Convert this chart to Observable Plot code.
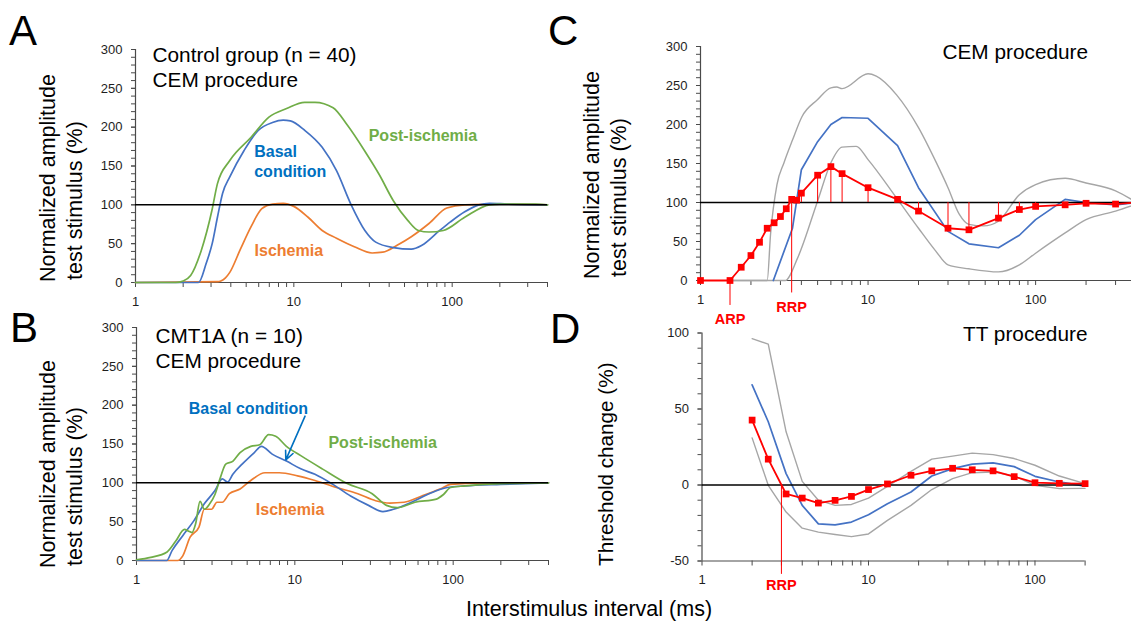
<!DOCTYPE html>
<html><head><meta charset="utf-8">
<script src="https://cdn.jsdelivr.net/npm/d3@7"></script>
<script src="https://cdn.jsdelivr.net/npm/@observablehq/plot@0.6"></script>
<style>
html,body{margin:0;padding:0;background:#fff;overflow:hidden;}
#wrap{position:relative;width:1131px;height:622px;overflow:hidden;background:#fff;}
</style></head><body><div id="wrap"></div>
<script>
// ---------- Panel A : control group, CEM ----------
const aPostX = [1, 1.8, 2.0, 2.23, 2.6, 3.04, 3.29, 3.94, 5.37, 6.96, 9.0, 11.7, 13.6, 17.7, 21.7, 28.1, 34.6, 42.6, 52.4, 61.2, 71.4, 87.9, 120, 172, 200, 337, 400];
const aPostY = [0, 0, 2, 9, 41, 93, 127, 157, 187, 213, 224, 232, 232, 225, 203, 169, 139, 105, 80, 67, 65, 67, 84, 100, 101, 101, 100];
const aBasalX = [1, 2.5, 2.8, 3.05, 3.3, 3.55, 3.94, 4.85, 5.96, 7.33, 8.57, 9.5, 11.7, 15.1, 18.6, 22.9, 28.1, 32.9, 42.6, 55.2, 64.4, 83.4, 97.5, 120, 147.5, 172, 223, 400];
const aBasalY = [0, 0, 25, 50, 85, 115, 136, 170, 196, 206, 209, 208, 196, 174, 144, 101, 67, 52, 45, 43, 48, 67, 78, 91, 100, 102, 101, 100];
const aIschX = [1, 3.3, 3.46, 3.7, 3.94, 4.6, 5.37, 6.28, 7.33, 8.57, 10, 12.3, 15.1, 18.6, 24.1, 31.2, 36.5, 44.9, 55.2, 71.4, 92.5, 120, 200, 400];
const aIschY = [0, 1, 2, 6, 13, 43, 72, 95, 101, 102, 98, 84, 67, 57, 46, 38, 39, 48, 59, 76, 96, 100, 101, 100];
const aLabels = ["Post-ischemia", "Basal", "condition", "Ischemia"];
const aLabelSeries = ["post", "basal", "basal", "isch"];
const aLabelX = [29.7, 5.62, 5.62, 5.65];
const aLabelY = [182.8, 162.2, 135.6, 33.9];
const aTitle = ["Control group (n = 40)", "CEM procedure"];

// ---------- Panel B : CMT1A, CEM ----------
const bPostX = [1, 1.23, 1.56, 1.77, 2.01, 2.12, 2.24, 2.36, 2.52, 2.68, 2.9, 3.13, 3.39, 3.66, 4.07, 4.51, 5.27, 6.0, 6.83, 7.57, 8.85, 10.9, 14.9, 21.4, 30.8, 37.9, 44.3, 57.4, 78.3, 86.9, 96.4, 118.7, 199.5, 400];
const bPostY = [1, 4, 11, 25, 40, 38, 36, 47, 76, 66, 73, 85, 107, 124, 128, 139, 147, 149, 162, 160, 147, 135, 118, 99, 86, 71, 68, 75, 79, 85, 94, 96, 99, 100];
const bBasalX = [1, 1.55, 1.68, 1.96, 2.3, 2.68, 3.13, 3.48, 3.76, 4.06, 4.75, 5.55, 6.15, 7.19, 8.85, 10.9, 13.4, 17.4, 22.5, 29.2, 36, 42, 54.5, 70.6, 91.5, 118.7, 200, 400];
const bBasalY = [0, 0, 13, 32, 51, 73, 90, 105, 101, 111, 126, 139, 147, 137, 128, 118, 111, 98, 83, 71, 63, 66, 75, 86, 94, 96, 98, 100];
const bIschX = [1, 1.82, 1.96, 2.18, 2.48, 2.68, 2.98, 3.22, 3.48, 3.86, 4.51, 5.27, 6.48, 7.98, 10.4, 13.4, 18.3, 25, 32.4, 39.8, 49, 63.3, 82.5, 96.4, 150, 400];
const bIschY = [0, 0, 6, 30, 43, 66, 66, 75, 75, 86, 92, 103, 113, 113, 109, 103, 94, 86, 77, 74, 75, 83, 92, 98, 100, 100];
const bLabels = ["Basal condition", "Post-ischemia", "Ischemia"];
const bLabelSeries = ["basal", "post", "isch"];
const bLabelX = [2.14, 16.3, 5.67];
const bLabelY = [188.9, 145.1, 59.2];
const bArrowFrom = [11.6, 185.8];
const bArrowTo = [8.77, 129.6];
const bTitle = ["CMT1A (n = 10)", "CEM procedure"];

// ---------- Panel C : CEM procedure, mean ± range ----------
const cRedX = [1, 1.5, 1.75, 2, 2.25, 2.5, 2.75, 3, 3.25, 3.5, 3.75, 4, 5, 6, 7, 10, 15, 20, 30, 40, 60, 80, 100, 150, 200, 300, 400];
const cRedY = [0, 0, 17, 32, 49, 67, 74, 82, 92, 104, 103, 112, 135, 146, 137, 119, 104, 89, 67, 65, 80, 91, 95, 97, 99, 98, 100];
const cBlueX = [2.72, 3.54, 4, 5, 6, 7, 10, 15, 20, 30, 40, 60, 80, 100, 150, 200, 300, 400];
const cBlueY = [0, 67, 142, 178, 200, 209, 208, 173, 119, 63, 47, 42, 58, 78, 104, 100, 97, 100];
const cUpX = [1.5, 2.5, 2.62, 2.86, 3.15, 3.54, 4.03, 5, 6, 6.5, 7, 10, 11.2, 14.8, 20, 25.3, 30, 35, 40, 49, 60, 80, 100, 150, 200, 300, 400];
const cUpY = [0, 0, 60, 123, 151, 180, 210, 232, 247, 248, 246, 265, 262, 238, 196, 153, 119, 85, 72, 70, 76, 110, 123, 131, 125, 115, 100];
const cLowX = [1.5, 3.2, 3.8, 5, 6, 7, 8.5, 10, 15, 20, 25.3, 30, 40, 60, 80, 100, 150, 200, 300, 400];
const cLowY = [0, 0, 29, 102, 151, 171, 172, 155, 104, 67, 38, 20, 15, 11, 20, 35, 61, 78, 89, 98];
const cMarkNames = ["ARP", "RRP"];
const cMarkX = [1.5, 3.5];
const cMarkTop = [0, 104];
const cMarkBottom = [-32, -16];
const cMarkLabelY = [-55.5, -40.6];
const cTitle = "CEM procedure";

// ---------- Panel D : TT procedure ----------
const dX = [2, 2.5, 3.2, 4, 5, 6.3, 7.9, 10, 13, 18, 24, 32, 42, 56, 75, 100, 140, 200];
const dRed = [42.7, 17, -5.9, -8.6, -11.9, -10.1, -7.5, -3, 0.7, 6.4, 9.3, 11, 10, 9.3, 5.5, 1.5, 1.1, 0.9];
const dBlue = [65.9, 41.6, 7.5, -13.4, -25.6, -26.2, -24.4, -19.6, -12.3, -4.6, 5.9, 10.8, 13.7, 14.5, 12.1, 5.7, 2, -0.7];
const dUp = [96.3, 92.7, 35, 2.4, -10, -13.4, -12.8, -8.6, -0.9, 9, 17, 19, 21, 20, 17.4, 13, 5.9, 0.9];
const dLow = [31, -0.2, -17.8, -28.4, -31, -32.6, -34, -32.2, -23.3, -13.4, -3, 4.2, 8.1, 8.6, 5.9, -0.2, -2.4, -2.2];
const dMarkName = "RRP";
const dMarkX = 3.0;
const dMarkBottom = -58.8;
const dMarkLabelY = -68.8;
const dTitle = "TT procedure";

// ---------- axes ----------
const xMajor = [1, 10, 100];
const xMinorWide = [2,3,4,5,6,7,8,9,20,30,40,50,60,70,80,90,200,300,400];
const xMinorD = [2,3,4,5,6,7,8,9,20,30,40,50,60,70,80,90,200];
const yMajorABC = [0, 50, 100, 150, 200, 250, 300];
const yMinorABC = d3.range(0, 301, 10);
const yMajorD = [-50, 0, 50, 100];
const yMinorD = d3.range(-50, 101, 10);
const yTitleCEM = ["Normalized amplitude", "test stimulus (%)"];
const yTitleTT = "Threshold change (%)";
const xTitle = "Interstimulus interval (ms)";
const panelLetters = ["A", "B", "C", "D"];

// ---------- styles ----------
const FONT = '"Liberation Sans", Arial, Helvetica, sans-serif';
const BLUE = "#4472C4", ORANGE = "#ED7D31", GREEN = "#70AD47", GRAY = "#A6A6A6", RED = "#FF0000";
const LABEL = {basal: "#0070C0", post: "#70AD47", isch: "#ED7D31"};
const AXIS = "#4a4a4a";
const TICKTEXT = "#1e1e1e";
const wrap = document.getElementById("wrap");
const pts = (xs, ys) => xs.map((x, i) => ({x, y: ys[i]}));

function panel({left, top, width, height, mt, mr, mb, ml, xDomain, yDomain, yMajor, yMinor, xMinor, marks}) {
  const chart = Plot.plot({
    width, height, marginTop: mt, marginRight: mr, marginBottom: mb, marginLeft: ml,
    x: {type: "log", domain: xDomain},
    y: {type: "linear", domain: yDomain},
    style: {background: "none", overflow: "visible", fontFamily: FONT, fontSize: "13px", color: "#2b2b2b"},
    marks: [
      Plot.axisY({ticks: yMinor, tickSize: 4, tickFormat: () => "", label: null, stroke: AXIS}),
      Plot.axisY({ticks: yMajor, tickSize: 4, tickPadding: 9, tickFormat: d => String(d), label: null, stroke: AXIS, fill: TICKTEXT, fontSize: 13}),
      Plot.axisX({ticks: xMinor, tickSize: 5, tickFormat: () => "", label: null, stroke: AXIS}),
      Plot.axisX({ticks: xMajor, tickSize: 5, tickPadding: 9, tickFormat: d => String(d), label: null, stroke: AXIS, fill: TICKTEXT, fontSize: 13}),
      Plot.ruleX([xDomain[0]], {stroke: AXIS, strokeWidth: 1.2}),
      Plot.ruleY([yDomain[0]], {stroke: AXIS, strokeWidth: 1.2}),
      ...marks
    ]
  });
  chart.style.position = "absolute";
  chart.style.left = left + "px";
  chart.style.top = top + "px";
  // make sure tick labels use the intended size
  chart.querySelectorAll('g[aria-label$="tick label"]').forEach(g => { g.setAttribute("font-size", "13"); g.style.fontSize = "13px"; });
  wrap.appendChild(chart);
}

const smoothLine = (xs, ys, color) => Plot.line(pts(xs, ys), {x: "x", y: "y", stroke: color, strokeWidth: 1.7, curve: "monotone-x"});
const labelMarks = (texts, series, xs, ys) => Plot.text(texts.map((t, i) => ({t, s: series[i], x: xs[i], y: ys[i]})),
  {x: "x", y: "y", text: "t", fill: d => LABEL[d.s], fontWeight: "bold", fontSize: 16, textAnchor: "start", lineAnchor: "bottom"});
const titleMarks = (lines, dx, dys) => lines.map((t, i) => Plot.text([t], {frameAnchor: "top-left", textAnchor: "start", lineAnchor: "bottom", dx, dy: dys[i], fontSize: 20.8, fill: "#000"}));

// Panel A
panel({left: 0, top: 0, width: 560, height: 310, mt: 49, mr: 13, mb: 28, ml: 135,
  xDomain: [1, 400], yDomain: [0, 300], yMajor: yMajorABC, yMinor: yMinorABC, xMinor: xMinorWide,
  marks: [
    smoothLine(aIschX, aIschY, ORANGE),
    smoothLine(aBasalX, aBasalY, BLUE),
    smoothLine(aPostX, aPostY, GREEN),
    Plot.ruleY([100], {stroke: "#000", strokeWidth: 1.5}),
    labelMarks(aLabels, aLabelSeries, aLabelX, aLabelY),
    ...titleMarks(aTitle, 17, [12.7, 37])
  ]});

// Panel B
panel({left: 0, top: 300, width: 560, height: 322, mt: 27, mr: 12, mb: 62, ml: 136,
  xDomain: [1, 400], yDomain: [0, 300], yMajor: yMajorABC, yMinor: yMinorABC, xMinor: xMinorWide,
  marks: [
    smoothLine(bIschX, bIschY, ORANGE),
    smoothLine(bBasalX, bBasalY, BLUE),
    smoothLine(bPostX, bPostY, GREEN),
    Plot.ruleY([100], {stroke: "#000", strokeWidth: 1.5}),
    labelMarks(bLabels, bLabelSeries, bLabelX, bLabelY),
    Plot.arrow([{x1: bArrowFrom[0], y1: bArrowFrom[1], x2: bArrowTo[0], y2: bArrowTo[1]}],
      {x1: "x1", y1: "y1", x2: "x2", y2: "y2", stroke: LABEL.basal, strokeWidth: 1.6, headLength: 9, headAngle: 50}),
    ...titleMarks(bTitle, 19, [15.7, 40.7])
  ]});

// Panel C
const cPts = pts(cRedX, cRedY);
panel({left: 565, top: 0, width: 575, height: 330, mt: 46, mr: 4, mb: 50, ml: 135,
  xDomain: [1, 400], yDomain: [0, 300], yMajor: yMajorABC, yMinor: yMinorABC, xMinor: xMinorWide,
  marks: [
    Plot.line(pts(cUpX, cUpY), {x: "x", y: "y", stroke: GRAY, strokeWidth: 1.4, curve: "monotone-x"}),
    Plot.line(pts(cLowX, cLowY), {x: "x", y: "y", stroke: GRAY, strokeWidth: 1.4, curve: "monotone-x"}),
    Plot.line(pts(cBlueX, cBlueY), {x: "x", y: "y", stroke: BLUE, strokeWidth: 1.7}),
    Plot.ruleY([100], {stroke: "#000", strokeWidth: 1.5}),
    Plot.ruleX(cPts.filter(d => d.x >= 4), {x: "x", y1: "y", y2: () => 100, stroke: RED, strokeWidth: 1}),
    Plot.ruleX(cMarkNames.map((n, i) => ({x: cMarkX[i], y1: cMarkTop[i], y2: cMarkBottom[i]})), {x: "x", y1: "y1", y2: "y2", stroke: RED, strokeWidth: 1}),
    Plot.line(cPts, {x: "x", y: "y", stroke: RED, strokeWidth: 1.8}),
    Plot.dot(cPts, {x: "x", y: "y", symbol: "square", r: 3.8, fill: RED, stroke: "none"}),
    Plot.text(cMarkNames.map((n, i) => ({n, x: cMarkX[i], y: cMarkLabelY[i]})), {x: "x", y: "y", text: "n", fill: RED, fontWeight: "bold", fontSize: 14.5, textAnchor: "middle", lineAnchor: "bottom"}),
    Plot.text([cTitle], {frameAnchor: "top-right", textAnchor: "end", lineAnchor: "bottom", dx: -48.4, dy: 12.3, fontSize: 20.8, fill: "#000"})
  ]});

// Panel D
const dPts = pts(dX, dRed);
panel({left: 565, top: 300, width: 540, height: 322, mt: 32.5, mr: 20.4, mb: 61.5, ml: 136.5,
  xDomain: [1, 200], yDomain: [-50, 100], yMajor: yMajorD, yMinor: yMinorD, xMinor: xMinorD,
  marks: [
    Plot.line(pts(dX, dUp), {x: "x", y: "y", stroke: GRAY, strokeWidth: 1.4}),
    Plot.line(pts(dX, dLow), {x: "x", y: "y", stroke: GRAY, strokeWidth: 1.4}),
    Plot.line(pts(dX, dBlue), {x: "x", y: "y", stroke: BLUE, strokeWidth: 1.7}),
    Plot.ruleY([0], {stroke: "#000", strokeWidth: 1.5}),
    Plot.ruleX([{x: dMarkX, y1: 0, y2: dMarkBottom}], {x: "x", y1: "y1", y2: "y2", stroke: RED, strokeWidth: 1}),
    Plot.line(dPts, {x: "x", y: "y", stroke: RED, strokeWidth: 1.8}),
    Plot.dot(dPts, {x: "x", y: "y", symbol: "square", r: 3.8, fill: RED, stroke: "none"}),
    Plot.text([{n: dMarkName, x: dMarkX, y: dMarkLabelY}], {x: "x", y: "y", text: "n", fill: RED, fontWeight: "bold", fontSize: 14.5, textAnchor: "middle", lineAnchor: "bottom"}),
    Plot.text([dTitle], {frameAnchor: "top-right", textAnchor: "end", lineAnchor: "bottom", dx: 2.4, dy: 8.2, fontSize: 20.8, fill: "#000"})
  ]});

// ---------- overlay texts ----------
const ov = d3.create("svg").attr("width", 1131).attr("height", 622)
  .style("position", "absolute").style("left", "0px").style("top", "0px")
  .style("font-family", FONT).style("overflow", "visible");
const letterPos = [[9, 45], [10, 342], [548, 45], [550, 343]];
panelLetters.forEach((L, i) => ov.append("text").attr("x", letterPos[i][0]).attr("y", letterPos[i][1]).attr("font-size", 42).text(L));
const yTitlePos = [[54.5, 282, 81.5, 280], [54.5, 568, 81.5, 566], [599, 279, 626, 277]];
yTitlePos.forEach(([x1, y1, x2, y2]) => {
  ov.append("text").attr("transform", `translate(${x1},${y1}) rotate(-90)`).attr("font-size", 21.5).text(yTitleCEM[0]);
  ov.append("text").attr("transform", `translate(${x2},${y2}) rotate(-90)`).attr("font-size", 21.5).text(yTitleCEM[1]);
});
ov.append("text").attr("transform", "translate(612.5,566) rotate(-90)").attr("font-size", 20.7).text(yTitleTT);
ov.append("text").attr("x", 589).attr("y", 616).attr("text-anchor", "middle").attr("font-size", 21.5).text(xTitle);
wrap.appendChild(ov.node());
</script></body></html>
